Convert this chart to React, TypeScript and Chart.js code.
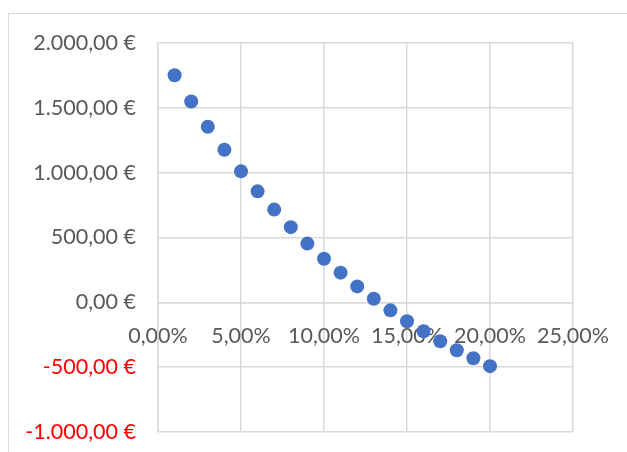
import { useEffect, useRef } from 'react';
import { Chart, registerables } from 'chart.js';

Chart.register(...registerables);

// interest rate (x) vs. net value (y)
const rates = [0.01, 0.02, 0.03, 0.04, 0.05, 0.06, 0.07, 0.08, 0.09, 0.1, 0.11, 0.12, 0.13, 0.14, 0.15, 0.16, 0.17, 0.18, 0.19, 0.2];
const values = [1751, 1549, 1354, 1177, 1010, 856, 715, 580, 453, 336, 229, 123, 28, -62, -146, -223, -300, -369, -431, -492];

const yTicks = [-1000, -500, 0, 500, 1000, 1500, 2000];
const xTicks = [0, 0.05, 0.1, 0.15, 0.2, 0.25];

const GRID = '#d9d9d9';
const LABEL = '#595959';

const euro = (v: number) => {
  const neg = v < 0;
  const [int, dec] = Math.abs(v).toFixed(2).split('.');
  const grouped = int.replace(/\B(?=(\d{3})+(?!\d))/g, '.');
  return `${neg ? '-' : ''}${grouped},${dec} €`;
};

const percent = (v: number) => (v * 100).toFixed(2).replace('.', ',') + '%';

const App = () => {
  const canvasRef = useRef<HTMLCanvasElement>(null);
  const chartRef = useRef<Chart | null>(null);

  useEffect(() => {
    if (!canvasRef.current) return;
    const ctx = canvasRef.current.getContext('2d');
    if (!ctx) return;

    chartRef.current = new Chart(ctx, {
      type: 'scatter',
      data: {
        datasets: [
          {
            data: rates.map((r, i) => ({ x: r, y: values[i] })),
            backgroundColor: '#4472c4',
            borderColor: '#4472c4',
            borderWidth: 0,
            pointRadius: 7,
          },
        ],
      },
      options: {
        animation: false,
        responsive: true,
        maintainAspectRatio: false,
        layout: { padding: { left: 0, top: 29, right: 54, bottom: 20 } },
        plugins: { legend: { display: false }, tooltip: { enabled: false } },
        scales: {
          x: {
            type: 'linear',
            position: { y: 0 },
            min: 0,
            max: 0.25,
            afterBuildTicks: (s: any) => {
              s.ticks = xTicks.map(v => ({ value: v }));
            },
            // axis sits on the zero line, so it takes no layout room
            afterFit: (s: any) => {
              s.height = 0;
              s.paddingLeft = 0;
              s.paddingRight = 0;
            },
            grid: { color: GRID, lineWidth: 1.5, drawTicks: false },
            border: { color: GRID, width: 1.5 },
            ticks: {
              padding: 21,
              color: LABEL,
              maxRotation: 0,
              autoSkip: false,
              font: { family: 'Lato', size: 21.5 },
              callback: (v: any) => percent(Number(v)),
            },
          },
          y: {
            type: 'linear',
            min: -1000,
            max: 2000,
            afterBuildTicks: (s: any) => {
              s.ticks = yTicks.map(v => ({ value: v }));
            },
            afterFit: (s: any) => {
              s.width = 149;
              s.paddingTop = 0;
              s.paddingBottom = 0;
            },
            grid: { color: GRID, lineWidth: 1.5, drawTicks: false },
            border: { color: GRID, width: 1.5 },
            ticks: {
              padding: 22,
              color: (c: any) => (c.tick && c.tick.value < 0 ? '#ff0000' : LABEL),
              font: { family: 'Lato', size: 21.5 },
              callback: (v: any) => euro(Number(v)),
            },
          },
        },
      },
    });

    return () => {
      chartRef.current?.destroy();
      chartRef.current = null;
    };
  }, []);

  return (
    <div
      style={{
        position: 'fixed',
        left: 8,
        top: 13,
        width: 618,
        height: 438,
        borderTop: `1px solid ${GRID}`,
        borderLeft: `1px solid ${GRID}`,
        background: '#fff',
      }}
    >
      <canvas ref={canvasRef}></canvas>
    </div>
  );
};

export default App;
